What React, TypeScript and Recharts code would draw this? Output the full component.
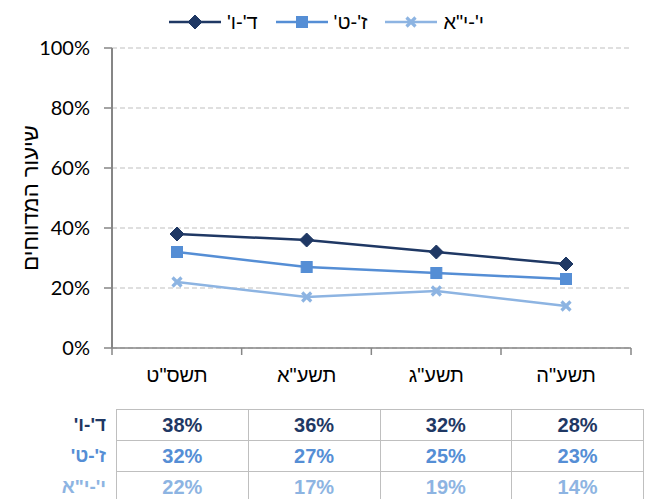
import React from "react";
import { LineChart, Line, XAxis, YAxis, CartesianGrid, Legend } from "recharts";

const categories = ["תשס\"ט", "תשע\"א", "תשע\"ג", "תשע\"ה"];
const seriesNames = ["ד'-ו'", "ז'-ט'", "י'-י\"א"];
const gradesDV = [38, 36, 32, 28];
const gradesZT = [32, 27, 25, 23];
const gradesYYA = [22, 17, 19, 14];
const yTicks = [0, 20, 40, 60, 80, 100];

const COLORS = ["#1F3864", "#558ED5", "#8DB4E2"];
const KEYS = ["dv", "zt", "yya"];
const seriesValues = [gradesDV, gradesZT, gradesYYA];

const data = categories.map((c, i) => ({
  name: c,
  dv: gradesDV[i],
  zt: gradesZT[i],
  yya: gradesYYA[i],
}));

const HEB = "'Liberation Sans', Arial, sans-serif";
const NUM = "Lato, 'Liberation Sans', sans-serif";
const AXIS = "#868686";
const HALF_BAND = 65;

function Marker({ kind, cx, cy, color }: { kind: number; cx: number; cy: number; color: string }) {
  if (kind === 0) {
    const r = 7;
    return <polygon points={`${cx},${cy - r} ${cx + r},${cy} ${cx},${cy + r} ${cx - r},${cy}`} fill={color} stroke={color} strokeWidth={1} />;
  }
  if (kind === 1) {
    const s = 5.5;
    return <rect x={cx - s} y={cy - s} width={s * 2} height={s * 2} fill={color} stroke={color} strokeWidth={1} />;
  }
  const s = 4.5;
  return (
    <g stroke={color} strokeWidth={3.2} strokeLinecap="butt">
      <line x1={cx - s} y1={cy - s} x2={cx + s} y2={cy + s} />
      <line x1={cx - s} y1={cy + s} x2={cx + s} y2={cy - s} />
    </g>
  );
}

const makeDot = (kind: number) => (props: any) => {
  const { cx, cy, index } = props;
  if (cx == null || cy == null) return <g key={`d${kind}-${index}`} />;
  return <g key={`d${kind}-${index}`}><Marker kind={kind} cx={cx} cy={cy} color={COLORS[kind]} /></g>;
};

const LegendContent = () => (
  <div style={{ height: 30, display: "flex", justifyContent: "center", alignItems: "center", gap: 18, paddingLeft: 8 }}>
    {seriesNames.map((n, i) => (
      <div key={n} style={{ display: "flex", alignItems: "center" }}>
        <svg width={52} height={20} style={{ display: "block" }}>
          <line x1={0} y1={10} x2={52} y2={10} stroke={COLORS[i]} strokeWidth={2.5} />
          <Marker kind={i} cx={26} cy={10} color={COLORS[i]} />
        </svg>
        <span style={{ fontFamily: HEB, fontSize: 20, color: "#000", marginLeft: 6, direction: "rtl" }}>{n}</span>
      </div>
    ))}
  </div>
);

const CategoryTick = (props: any) => {
  const { x, y, payload, index } = props;
  const last = index === categories.length - 1;
  return (
    <g>
      <line x1={x - HALF_BAND} y1={y} x2={x - HALF_BAND} y2={y + 7} stroke={AXIS} strokeWidth={1.5} />
      {last && <line x1={x + HALF_BAND} y1={y} x2={x + HALF_BAND} y2={y + 7} stroke={AXIS} strokeWidth={1.5} />}
      <text x={x} y={y + 20} dy="0.71em" textAnchor="middle" fill="#000" fontSize={20} fontFamily={HEB}>
        {payload.value}
      </text>
    </g>
  );
};

export default function App() {
  const tableLeft = 116;
  const colW = 130.75;
  const rowH = 31;
  return (
    <div style={{ position: "absolute", left: 0, top: 0, width: 645, height: 499, background: "#fff", overflow: "hidden" }}>
      <LineChart width={645} height={400} data={data} margin={{ top: 18, right: 14, bottom: 0, left: 0 }}>
        <Legend verticalAlign="top" align="center" content={<LegendContent />} wrapperStyle={{ top: 7, left: 0, width: 645, height: 30 }} />
        <CartesianGrid vertical={false} stroke="#BFBFBF" strokeDasharray="5 3" strokeWidth={1.2} />
        <XAxis
          dataKey="name"
          padding={{ left: HALF_BAND, right: HALF_BAND }}
          axisLine={{ stroke: AXIS, strokeWidth: 1.5 }}
          tickLine={false}
          tickSize={0}
          tickMargin={0}
          tick={CategoryTick}
          interval={0}
          height={52}
        />
        <YAxis
          width={112}
          domain={[0, 100]}
          ticks={yTicks}
          tickFormatter={(v: number) => `${v}%`}
          tick={{ fill: "#000", fontSize: 20, fontFamily: NUM }}
          tickLine={{ stroke: AXIS, strokeWidth: 1.5 }}
          tickSize={8}
          tickMargin={14}
          axisLine={{ stroke: AXIS, strokeWidth: 2 }}
          label={{ value: "שיעור המדווחים", angle: -90, position: "center", dx: -26, fill: "#000", fontSize: 22, fontFamily: HEB }}
        />
        {KEYS.map((k, i) => (
          <Line
            key={k}
            dataKey={k}
            name={seriesNames[i]}
            stroke={COLORS[i]}
            strokeWidth={2.5}
            dot={makeDot(i)}
            activeDot={false}
            isAnimationActive={false}
          />
        ))}
      </LineChart>
      <div style={{ position: "absolute", left: 0, top: 409 }}>
        {seriesNames.map((n, r) => (
          <div
            key={n}
            style={{
              position: "absolute",
              left: 0,
              top: r * rowH,
              width: tableLeft - 10,
              height: rowH,
              lineHeight: `${rowH}px`,
              textAlign: "right",
              fontFamily: HEB,
              fontWeight: "bold",
              fontSize: 19,
              color: COLORS[r],
              direction: "rtl",
            }}
          >
            {n}
          </div>
        ))}
        <table
          style={{
            position: "absolute",
            left: tableLeft,
            top: 0,
            borderCollapse: "collapse",
            tableLayout: "fixed",
            width: colW * 4,
          }}
        >
          <tbody>
            {seriesValues.map((vals, r) => (
              <tr key={r} style={{ height: rowH }}>
                {vals.map((v, c) => (
                  <td
                    key={c}
                    style={{
                      border: "1.5px solid #BFBFBF",
                      width: colW,
                      height: rowH - 2,
                      padding: 0,
                      textAlign: "center",
                      fontFamily: HEB,
                      fontWeight: "bold",
                      fontSize: 20,
                      color: COLORS[r],
                    }}
                  >
                    {`${v}%`}
                  </td>
                ))}
              </tr>
            ))}
          </tbody>
        </table>
      </div>
    </div>
  );
}
